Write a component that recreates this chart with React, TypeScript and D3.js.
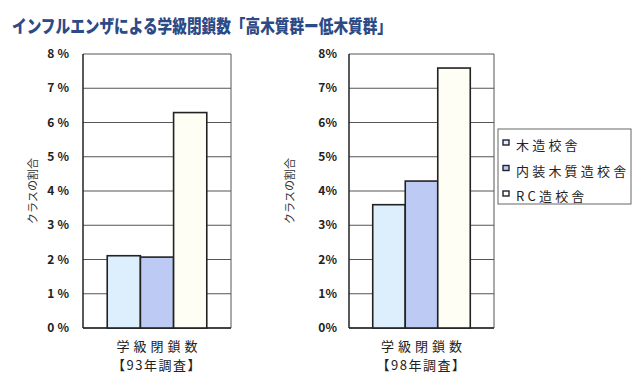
import React from 'react';
import * as d3 from 'd3';

// series (building types) and their fills
const seriesNames = ['木造校舎', '内装木質造校舎', 'RC造校舎'];
const seriesColors = ['#ddeefc', '#bdcbf4', '#fefef4'];

// share of closed classes per survey (fraction)
const survey93 = [0.0211, 0.0207, 0.0629];
const survey98 = [0.036, 0.0429, 0.0759];

const yTicks = [0, 0.01, 0.02, 0.03, 0.04, 0.05, 0.06, 0.07, 0.08];
const xTitle = '学級閉鎖数';
const surveyLabels = ['【93年調査】', '【98年調査】'];
const yTitle = 'クラスの割合';
const chartTitle = 'インフルエンザによる学級閉鎖数「高木質群ー低木質群」';

const jp = '"Noto Sans CJK JP", "Noto Sans", sans-serif';

type PanelProps = {
  values: number[];
  left: number;
  right: number;
  subLabel: string;
  tickRight: number;
  tickSpacing: number;
  titleX: number;
};

const Panel = ({ values, left, right, subLabel, tickRight, tickSpacing, titleX }: PanelProps) => {
  const y = d3.scaleLinear().domain([0, 0.08]).range([328, 54]);
  const x = d3
    .scaleBand<string>()
    .domain(seriesNames)
    .range([left, right])
    .paddingInner(0)
    .paddingOuter(0.73);
  const cx = (left + right) / 2;

  return (
    <g>
      {yTicks.map((t) => (
        <g key={t}>
          <line x1={left} x2={right} y1={y(t)} y2={y(t)} stroke="#555" strokeWidth={1} />
          <text
            x={tickRight}
            y={y(t) + 4}
            textAnchor="end"
            fontFamily={jp}
            fontWeight="bold"
            fontSize={12}
            letterSpacing={tickSpacing}
            fill="#222"
          >
            {Math.round(t * 100) + '%'}
          </text>
        </g>
      ))}
      <line x1={right} x2={right} y1={y(0.08)} y2={y(0)} stroke="#555" strokeWidth={1} />
      <line x1={left} x2={left} y1={y(0.08)} y2={y(0)} stroke="#222" strokeWidth={1.5} />
      <line x1={left} x2={right} y1={y(0)} y2={y(0)} stroke="#222" strokeWidth={1.5} />
      {values.map((v, i) => (
        <rect
          key={i}
          x={x(seriesNames[i])}
          y={y(v)}
          width={x.bandwidth()}
          height={y(0) - y(v)}
          fill={seriesColors[i]}
          stroke="#222"
          strokeWidth={1.6}
        />
      ))}
      <text
        transform={`translate(${titleX},191) rotate(-90)`}
        textAnchor="middle"
        fontFamily={jp}
        fontSize={11}
        fill="#333"
      >
        {yTitle}
      </text>
      <text x={cx + 2} y={351} textAnchor="middle" fontFamily={jp} fontSize={13} letterSpacing={4} fill="#222">
        {xTitle}
      </text>
      <text x={cx} y={370} textAnchor="middle" fontFamily={jp} fontSize={13} letterSpacing={1.5} fill="#222">
        {subLabel}
      </text>
    </g>
  );
};

const Legend = () => {
  const rowY = d3.scalePoint<string>().domain(seriesNames).range([145, 196]);
  return (
    <g>
      <rect x={498} y={129} width={133} height={75} fill="#fff" stroke="#666" strokeWidth={1} />
      {seriesNames.map((s, i) => (
        <g key={s}>
          <rect
            x={503}
            y={(rowY(s) as number) - 5}
            width={6}
            height={5}
            fill={seriesColors[i]}
            stroke="#223"
            strokeWidth={1.4}
          />
          <text
            x={516}
            y={(rowY(s) as number) + 5}
            fontFamily={jp}
            fontSize={13}
            letterSpacing={3.2}
            fill="#222"
          >
            {s}
          </text>
        </g>
      ))}
    </g>
  );
};

export default function App() {
  return (
    <svg
      width={640}
      height={385}
      style={{ position: 'absolute', left: 0, top: 0, background: '#fff' }}
    >
      <rect width={640} height={385} fill="#fff" />
      <text
        x={12}
        y={33}
        fontFamily={jp}
        fontWeight={900}
        fontSize={18}
        fill="#2c4a86"
        textLength={380}
        lengthAdjust="spacingAndGlyphs"
      >
        {chartTitle}
      </text>
      <Panel
        values={survey93}
        left={83}
        right={231}
        subLabel={surveyLabels[0]}
        tickRight={72}
        tickSpacing={3}
        titleX={37}
      />
      <Panel
        values={survey98}
        left={349}
        right={494}
        subLabel={surveyLabels[1]}
        tickRight={337}
        tickSpacing={0}
        titleX={294}
      />
      <Legend />
    </svg>
  );
}
